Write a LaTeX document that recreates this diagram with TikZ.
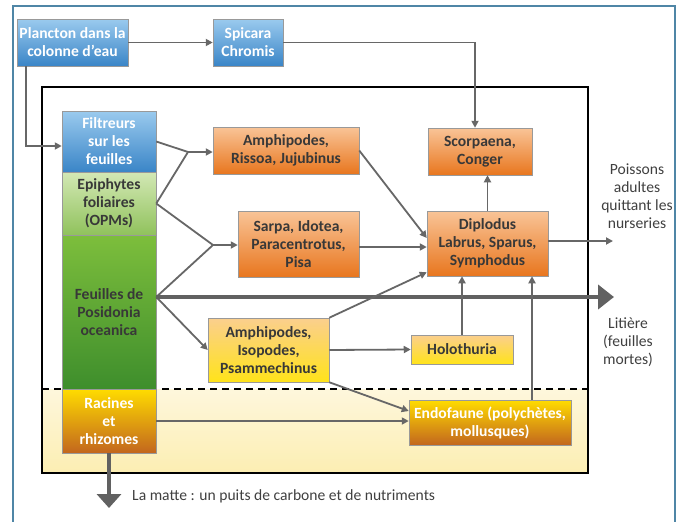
\documentclass[tikz,border=0pt]{standalone}
\usepackage{fontspec}
\setmainfont{Carlito}
\usetikzlibrary{arrows.meta,shadows,calc}
\definecolor{conncol}{HTML}{676767}
\definecolor{framecol}{HTML}{4F86A6}
\definecolor{bluetop}{HTML}{9ACAEE}
\definecolor{bluebot}{HTML}{3A85C7}
\definecolor{ortop}{HTML}{F9C497}
\definecolor{orbot}{HTML}{E8761E}
\definecolor{yetop}{HTML}{FBCF8E}
\definecolor{yebot}{HTML}{FFE31A}
\definecolor{brtop}{HTML}{FFDC00}
\definecolor{brbot}{HTML}{C2661E}
\definecolor{fetop}{HTML}{7DBE3C}
\definecolor{febot}{HTML}{3E8E2C}
\definecolor{eptop}{HTML}{D3E8B5}
\definecolor{epbot}{HTML}{90C25C}
\definecolor{zonetop}{HTML}{FEF7DC}
\definecolor{zonebot}{HTML}{FCEEB2}
\begin{document}
\begin{tikzpicture}[x=1pt,y=-1pt,
  sz/.style 2 args={minimum width=#1pt, minimum height=#2pt},
  box/.style={draw=black!40, line width=0.5pt, align=center, inner sep=0pt,
    font=\fontsize{15.6}{18}\selectfont\bfseries, text=black!78,
    drop shadow={shadow xshift=1.2pt,shadow yshift=-1.2pt,opacity=0.3}},
  blueb/.style={box, top color=bluetop, bottom color=bluebot, text=white},
  orangeb/.style={box, top color=ortop, bottom color=orbot},
  yelb/.style={box, top color=yetop, bottom color=yebot},
  brownb/.style={box, top color=brtop, bottom color=brbot, text=white},
  link/.style={draw=conncol, line width=1.8pt},
  conn/.style={link, -{Triangle[length=7pt,width=7pt]}},
  thickarrow/.style={draw=black!62, line width=4.5pt, -{Triangle[length=16pt,width=24pt]}},
  lab/.style={align=center, inner sep=0pt, font=\fontsize{15.6}{18}\selectfont, text=black!75}
]
\useasboundingbox (0,0) rectangle (683,522);
\fill[white] (0,0) rectangle (683,522);
% frames
\draw[framecol, line width=1.2pt] (13,530) -- (13,6) -- (675,6) -- (675,530);
\fill[top color=zonetop, bottom color=zonebot] (42,389) rectangle (588,473);
\draw[black, line width=1.8pt] (42,87) rectangle (588,473);
\draw[black, line width=1.5pt, dash pattern=on 7pt off 5pt] (42,389) -- (588,389);

% boxes
\node[blueb, sz={111}{47}] (plan) at (72.5,42.5) {Plancton dans la\\colonne d’eau};
\node[blueb, sz={70}{47}] (spic) at (248,42.5) {Spicara\\Chromis};
\node[box, top color=fetop, bottom color=febot, sz={94}{154}] (feu) at (109,312) {Feuilles de\\Posidonia\\oceanica};
\node[box, top color=eptop, bottom color=epbot, sz={94}{63}] (epi) at (109,203.5) {Epiphytes\\foliaires\\(OPMs)};
\node[blueb, sz={94}{61}] (filt) at (109,141.5) {Filtreurs\\sur les\\feuilles};
\node[brownb, sz={94}{64}] (rac) at (109,421) {Racines\\et\\rhizomes};
\node[orangeb, sz={146}{47}] (am1) at (286,150.5) {Amphipodes,\\Rissoa, Jujubinus};
\node[orangeb, sz={121}{66}] (sar) at (298.5,244) {Sarpa, Idotea,\\Paracentrotus,\\Pisa};
\node[orangeb, sz={104}{47}] (sco) at (480,151.5) {Scorpaena,\\Conger};
\node[orangeb, sz={121}{65}] (dip) at (487.5,243.5) {Diplodus\\Labrus, Sparus,\\Symphodus};
\node[yelb, sz={121}{64}] (am2) at (268.5,350) {Amphipodes,\\Isopodes,\\Psammechinus};
\node[yelb, sz={102}{29}] (hol) at (462,349.5) {Holothuria};
\node[brownb, sz={162}{45}] (end) at (490,422.5) {Endofaune (polychètes,\\mollusques)};

% labels
\node[lab] (poi) at (637,196) {Poissons\\adultes\\quittant les\\nurseries};
\node[lab] (litl) at (628,342) {Litière\\(feuilles\\mortes)};
\node[lab, anchor=west] (matl) at (132,496) {La matte : un puits de carbone et de nutriments};

% coordinates
\coordinate (pc) at (26,146);
\coordinate (sc) at (475,42.5);
\coordinate (J1) at (188,152);
\coordinate (J2) at (213,245);
\coordinate (F) at ($(feu.east)+(0,-15)$);
\coordinate (S) at ($(sar.east)+(0,3)$);
\coordinate (ex) at (532,0);
\coordinate (pout) at (613,241);
\coordinate (lit) at (614,297);
\coordinate (matd) at (109,508);

% connectors
\draw[conn] (plan.east) -- (spic.west);
\draw[conn] (spic.east) -- (sc) -- (sc |- sco.north);
\draw[conn] (plan.south -| pc) -- (pc) -- (pc -| filt.west);
\draw[link] (filt.east) -- (J1);
\draw[link] (epi.east) -- (J1);
\draw[conn] (J1) -- (J1 -| am1.west);
\draw[link] (epi.east) -- (J2);
\draw[link] (F) -- (J2);
\draw[conn] (J2) -- (J2 -| sar.west);
\draw[conn] (F) -- (am2.west);
\draw[thickarrow] (F) -- (lit);
\draw[conn] (am1.east) -- ($(dip.west)+(0,-5.5)$);
\draw[conn] (S) -- (S -| dip.west);
\draw[conn] (am2.north east) -- ($(dip.south west)+(0,-4)$);
\draw[conn] (am2.east) -- (hol.west);
\draw[conn] (am2.south east) -- ($(end.west)+(0,-11.5)$);
\draw[conn] (rac.east) -- (rac.east -| end.west);
\draw[conn] (hol.north) -- (hol.north |- dip.south);
\draw[conn] (end.north -| ex) -- (ex |- dip.south);
\draw[conn] (dip.north) -- (dip.north |- sco.south);
\draw[conn] (dip.east |- pout) -- (pout);
\draw[draw=black!62, line width=4pt, -{Triangle[length=14pt,width=24pt]}] (rac.south) -- (matd);
\end{tikzpicture}
\end{document}
